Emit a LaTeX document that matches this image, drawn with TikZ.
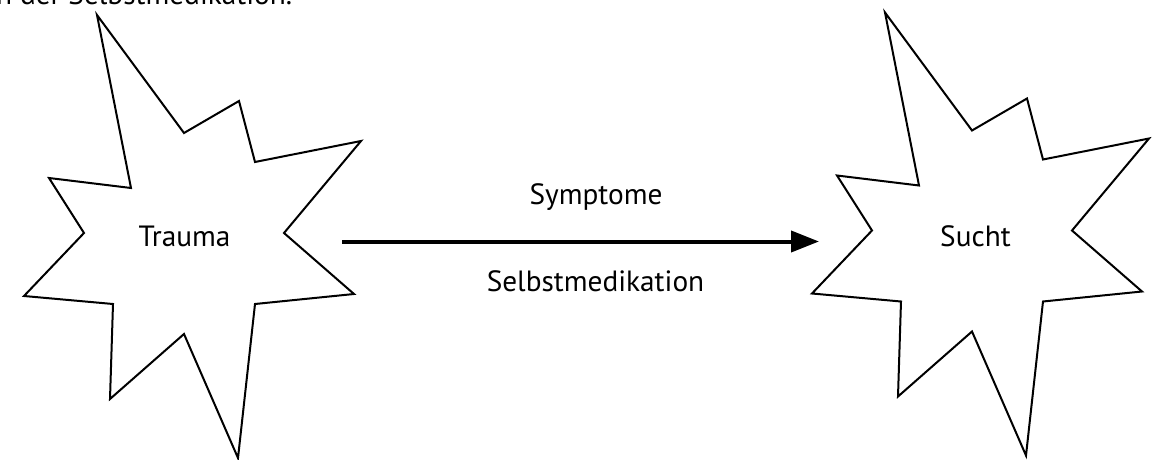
\documentclass[tikz,border=0pt]{standalone}
\usepackage{fontspec}
\setmainfont{PT Sans}
\usetikzlibrary{arrows.meta}
\begin{document}
\begin{tikzpicture}[x=1pt,y=-1pt,
  star/.style={draw=black,line width=2pt,line join=miter,fill=white},
  lbl/.style={font=\fontsize{29.3}{34}\selectfont,inner sep=0pt},
  conn/.style={line width=4pt,-{Triangle[length=28pt,width=21pt]}}]
\useasboundingbox (0,0) rectangle (1157,460);
\clip (0,0) rectangle (1157,460);
\node[lbl,anchor=base west] (top) at (-4,4.5) {n der Selbstmedikation.};
\def\starpath{(97,15) -- (184,133) -- (239,101) -- (255,162) -- (361,141) -- (284,233) -- (354,294) -- (255,304) -- (238,458) -- (184,334) -- (110,399) -- (113,304) -- (24,296) -- (84,233) -- (49,178) -- (131,188) -- cycle}
\draw[star] \starpath;
\begin{scope}[shift={(788,-2.5)}]
\draw[star] \starpath;
\end{scope}
\node[lbl,anchor=base] (trauma) at (184.5,246.7) {Trauma};
\node[lbl,anchor=base] (sucht) at (975.5,246.7) {Sucht};
\node[lbl,anchor=base] (sym) at (596,204.3) {Symptome};
\node[lbl,anchor=base] (selbst) at (595.5,291.7) {Selbstmedikation};
\coordinate (from) at (342,241.5);
\coordinate (to) at (819,241.5);
\draw[conn] (from) -- (to);
\end{tikzpicture}
\end{document}
